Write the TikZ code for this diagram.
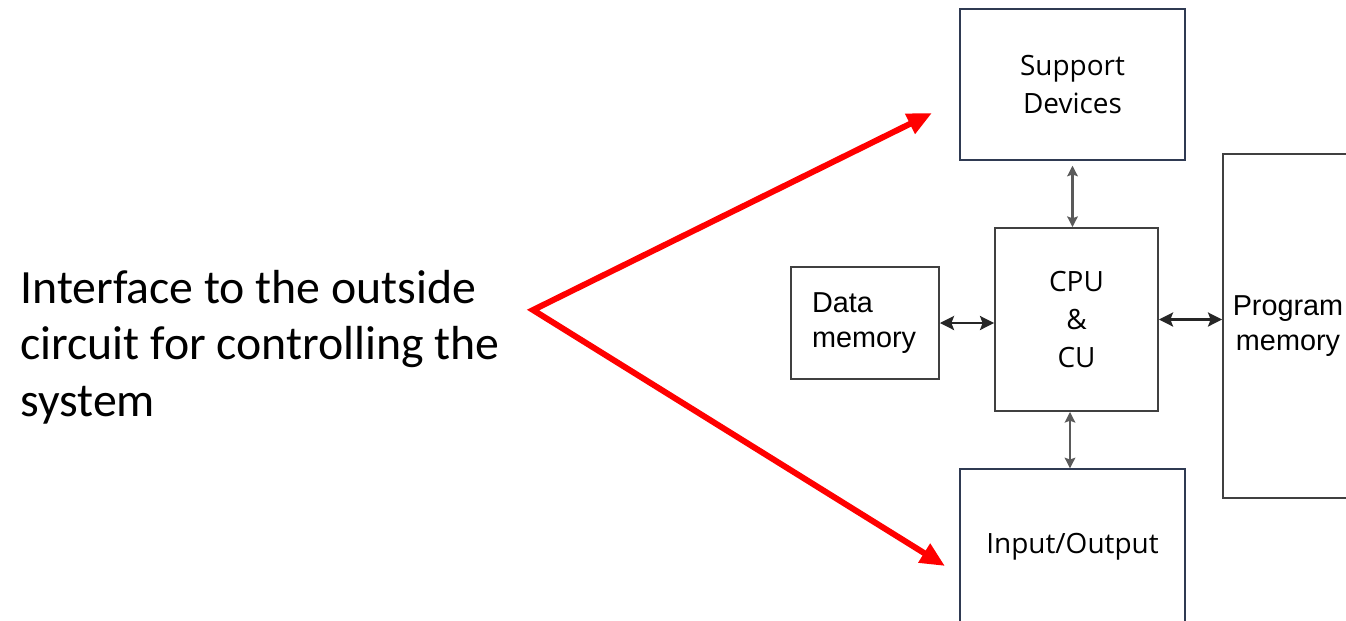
\documentclass[tikz,border=0pt]{standalone}
\usepackage{fontspec}
\setmainfont{Carlito}
\newfontfamily\segfont{Open Sans}
\newfontfamily\arifont{Liberation Sans}
\usetikzlibrary{arrows.meta}
\definecolor{navyline}{HTML}{2F3A52}
\definecolor{darkline}{HTML}{404040}
\definecolor{linkgray}{HTML}{5A5A5A}
\definecolor{linkdark}{HTML}{262626}

\begin{document}
\begin{tikzpicture}[x=0.02cm,y=-0.02cm,
    unit/.style={draw=darkline,line width=1.1pt,inner sep=0pt,align=center},
    segtext/.style={font=\segfont\fontsize{15.9}{21.8}\selectfont},
    aritext/.style={font=\arifont\fontsize{16.4}{20.4}\selectfont},
    buslink/.style={linkgray,line width=1.5pt,{Stealth[length=6pt,width=6pt,inset=1pt]}-{Stealth[length=6pt,width=6pt,inset=1pt]}},
    memlink/.style={linkdark,line width=1.4pt,{Stealth[length=8pt,width=8pt,inset=1.5pt]}-{Stealth[length=8pt,width=8pt,inset=1.5pt]}},
    pointer/.style={red,line width=3.4pt,line join=miter,{Triangle[length=14pt,width=12pt]}-{Triangle[length=14pt,width=12pt]}}]
    \clip (0,0) rectangle (1346,620);
    % left note
    \node[font=\fontsize{27.2}{32.3}\selectfont,align=left,anchor=west,inner sep=0pt] (note) at (20,347)
        {Interface to the outside\\circuit for controlling the\\system};
    % blocks
    \node[unit,segtext,draw=navyline,line width=0.8pt,minimum width=4.5cm,minimum height=3.02cm] (sup) at (1072.5,84.5) {Support\\Devices};
    \node[unit,segtext,minimum width=3.26cm,minimum height=3.66cm] (cpu) at (1076.5,319.5) {CPU\\\&\\CU};
    \node[unit,aritext,align=left,inner xsep=0.42cm,text width=2.12cm,minimum height=2.24cm] (dmem) at (865,323) {Data\\memory};
    \node[unit,aritext,minimum width=2.6cm,minimum height=6.88cm] (pmem) at (1288,326) {Program\\memory};
    \node[unit,segtext,draw=navyline,line width=0.8pt,minimum width=4.5cm,minimum height=3.12cm] (io) at (1072.5,547) {Input/Output};
    % links
    \draw[buslink] ([yshift=-0.1cm]sup.south) -- (sup.south |- cpu.north);
    \draw[buslink] (io.north -| 1070,0) -- (cpu.south -| 1070,0);
    \draw[memlink] (dmem.east) -- (dmem.east -| cpu.west);
    \draw[memlink] (cpu.east) -- (cpu.east -| pmem.west);
    % red arrows
    \coordinate (fork) at (533,310);
    \coordinate (tipsup) at (932,113);
    \coordinate (tipio) at (945,566);
    \draw[pointer] (tipsup) -- (fork) -- (tipio);
\end{tikzpicture}
\end{document}
